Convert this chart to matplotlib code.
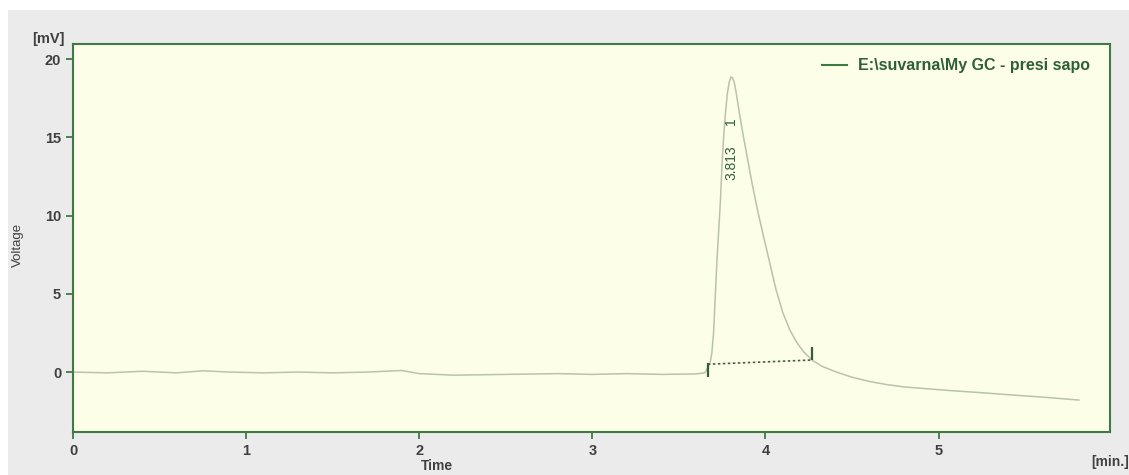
import matplotlib.pyplot as plt
from matplotlib.lines import Line2D
from matplotlib.patches import Rectangle

# Chromatogram trace
time = [0.0, 0.2, 0.4, 0.6, 0.75, 0.9, 1.1, 1.3, 1.5, 1.7, 1.9, 2.0, 2.2,
        2.5, 2.8, 3.0, 3.2, 3.4, 3.6, 3.65, 3.667, 3.68, 3.69, 3.70, 3.72,
        3.74, 3.75, 3.76, 3.77, 3.78, 3.79, 3.80, 3.81, 3.82, 3.83, 3.85,
        3.87, 3.89, 3.92, 3.955, 3.99, 4.02, 4.06, 4.10, 4.14, 4.18, 4.22,
        4.27, 4.33, 4.41, 4.50, 4.60, 4.70, 4.80, 5.05, 5.25, 5.43, 5.60,
        5.81]
voltage = [0.0, -0.05, 0.05, -0.05, 0.08, 0.0, -0.05, 0.0, -0.05, 0.0, 0.1,
           -0.1, -0.2, -0.15, -0.1, -0.15, -0.1, -0.15, -0.12, -0.05, 0.3,
           0.6, 1.2, 2.5, 7.2, 11.0, 13.5, 15.3, 16.7, 17.8, 18.5, 18.85,
           18.8, 18.5, 17.9, 16.5, 15.2, 14.0, 12.2, 10.3, 8.6, 7.2, 5.3, 3.8,
           2.7, 1.9, 1.3, 0.75, 0.35, 0.0, -0.33, -0.6, -0.8, -0.95, -1.17,
           -1.32, -1.47, -1.6, -1.79]

# Integration of peak 1
peak_time = 3.813
peak_no = "1"
base_t = [3.667, 4.27]
base_v = [0.5, 0.77]
tick_lo = [-0.3, 0.77]
tick_hi = [0.6, 1.6]

xticks = [0, 1, 2, 3, 4, 5]
yticks = [0, 5, 10, 15, 20]

plt.rcParams['font.family'] = ['Liberation Sans', 'DejaVu Sans']

fig = plt.figure(figsize=(11.29, 4.75), dpi=100)
fig.patch.set_facecolor('white')
bg = Rectangle((8 / 1129, 0), 1, 465 / 475, transform=fig.transFigure,
               facecolor='#ebebeb', edgecolor='none', zorder=-10)
fig.add_artist(bg)

ax = fig.add_axes([73 / 1129, 43 / 475, 1037 / 1129, 388 / 475])
ax.set_zorder(1)
ax.set_facecolor('#fdfee8')

green = '#3f7a45'
dark = '#2f5f35'
grey = '#404040'

ax.plot(time, voltage, color='#b9c2ab', lw=1.1, zorder=2)

# baseline and integration ticks
ax.plot(base_t, base_v, color='#4a5a4a', lw=1.2, ls=(0, (1.5, 1.5)), zorder=3)
ax.vlines(base_t, tick_lo, tick_hi, color=dark, lw=1.6, zorder=4)

ax.text(peak_time - 0.01, 13.4, f"{peak_time:.3f}", rotation=90, ha='center',
        va='center', fontsize=10, color=dark)
ax.text(peak_time - 0.01, 16.0, peak_no, rotation=90, ha='center',
        va='center', fontsize=10, color=dark)

ax.set_xlim(0, 5.99)
ax.set_ylim(-3.83, 20.96)
ax.set_xticks(xticks)
ax.set_yticks(yticks)

for s in ax.spines.values():
    s.set_color(green)
    s.set_linewidth(1.5)
ax.tick_params(direction='out', length=5, width=1.3, color=green,
               labelsize=10.5, labelcolor=grey)
for lbl in ax.get_xticklabels() + ax.get_yticklabels():
    lbl.set_fontweight('bold')

fig.text(48 / 1129, 1 - 46 / 475, "[mV]", ha='center', va='bottom',
         fontsize=10.5, color=grey, fontweight='bold')
fig.text(18 / 1129, 1 - 245 / 475, "Voltage", rotation=90, ha='center',
         va='center', fontsize=9.5, color=grey)
fig.text(437 / 1129, 1 - 466 / 475, "Time", ha='center', va='center',
         fontsize=10, color=grey, fontweight='bold')
fig.text(1110 / 1129, 1 - 462 / 475, "[min.]", ha='center', va='center',
         fontsize=10, color=grey, fontweight='bold')

handle = Line2D([], [], color=green, lw=1.5)
leg = ax.legend([handle], [r"E:\suvarna\My GC - presi sapo"], loc='upper right',
                frameon=False, handlelength=1.6, handletextpad=0.7,
                borderaxespad=0.5, bbox_to_anchor=(0.995, 1.0),
                prop={'weight': 'bold', 'size': 11.5})
for t in leg.get_texts():
    t.set_color(dark)

fig.savefig('out.png', dpi=100)
